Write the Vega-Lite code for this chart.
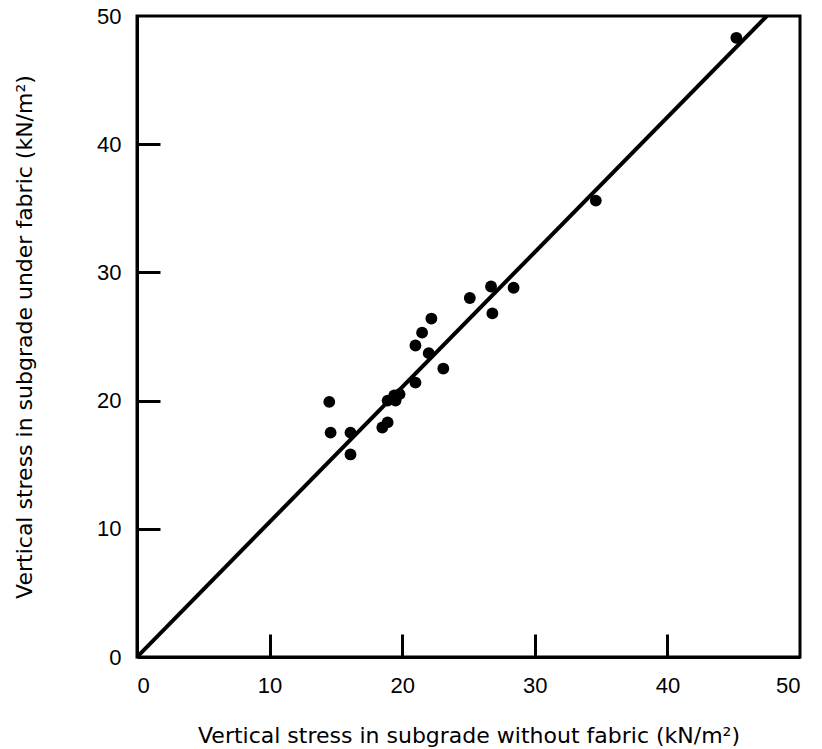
{
  "$schema": "https://vega.github.io/schema/vega-lite/v6.json",
  "width": 663,
  "height": 641,
  "autosize": {"type": "none"},
  "padding": {"left": 137, "top": 16, "right": 22, "bottom": 92},
  "background": "white",
  "config": {
    "view": {"stroke": "black", "strokeWidth": 3},
    "font": "Liberation Sans",
    "axis": {
      "domainColor": "black", "domainWidth": 3, "grid": false,
      "tickColor": "black", "tickWidth": 3, "tickSize": -23,
      "labelFont": "Liberation Sans", "labelFontSize": 22, "labelColor": "black",
      "titleFont": "DejaVu Sans", "titleFontSize": 22, "titleFontWeight": "normal", "titleColor": "black"
    }
  },
  "datasets": {
    "points": [
      {"without": 45.2, "under": 48.3},
      {"without": 34.6, "under": 35.6},
      {"without": 28.4, "under": 28.8},
      {"without": 26.7, "under": 28.9},
      {"without": 26.8, "under": 26.8},
      {"without": 25.1, "under": 28.0},
      {"without": 22.2, "under": 26.4},
      {"without": 21.5, "under": 25.3},
      {"without": 21.0, "under": 24.3},
      {"without": 22.0, "under": 23.7},
      {"without": 23.1, "under": 22.5},
      {"without": 21.0, "under": 21.4},
      {"without": 19.8, "under": 20.5},
      {"without": 19.4, "under": 20.4},
      {"without": 18.9, "under": 20.0},
      {"without": 19.5, "under": 20.0},
      {"without": 14.5, "under": 19.9},
      {"without": 14.6, "under": 17.5},
      {"without": 16.1, "under": 17.5},
      {"without": 18.9, "under": 18.3},
      {"without": 18.5, "under": 17.9},
      {"without": 16.1, "under": 15.8}
    ],
    "fit": [
      {"without": 0, "under": 0},
      {"without": 47.5, "under": 50}
    ]
  },
  "layer": [
    {
      "data": {"name": "fit"},
      "mark": {"type": "line", "color": "black", "strokeWidth": 4, "clip": true},
      "encoding": {
        "x": {"field": "without", "type": "quantitative"},
        "y": {"field": "under", "type": "quantitative"}
      }
    },
    {
      "data": {"name": "points"},
      "mark": {"type": "circle", "color": "black", "opacity": 1, "size": 140},
      "encoding": {
        "x": {
          "field": "without", "type": "quantitative",
          "scale": {"domain": [0, 50], "nice": false},
          "axis": {
            "values": [0, 10, 20, 30, 40, 50],
            "title": "Vertical stress in subgrade without fabric (kN/m²)",
            "labelPadding": 41, "titlePadding": 29,
            "tickColor": {"condition": {"test": "datum.value == 0 || datum.value == 50", "value": "transparent"}, "value": "black"}
          }
        },
        "y": {
          "field": "under", "type": "quantitative",
          "scale": {"domain": [0, 50], "nice": false},
          "axis": {
            "values": [0, 10, 20, 30, 40, 50],
            "title": "Vertical stress in subgrade under fabric (kN/m²)",
            "labelPadding": 39, "titlePadding": 60,
            "tickColor": {"condition": {"test": "datum.value == 0 || datum.value == 50", "value": "transparent"}, "value": "black"}
          }
        }
      }
    }
  ]
}
